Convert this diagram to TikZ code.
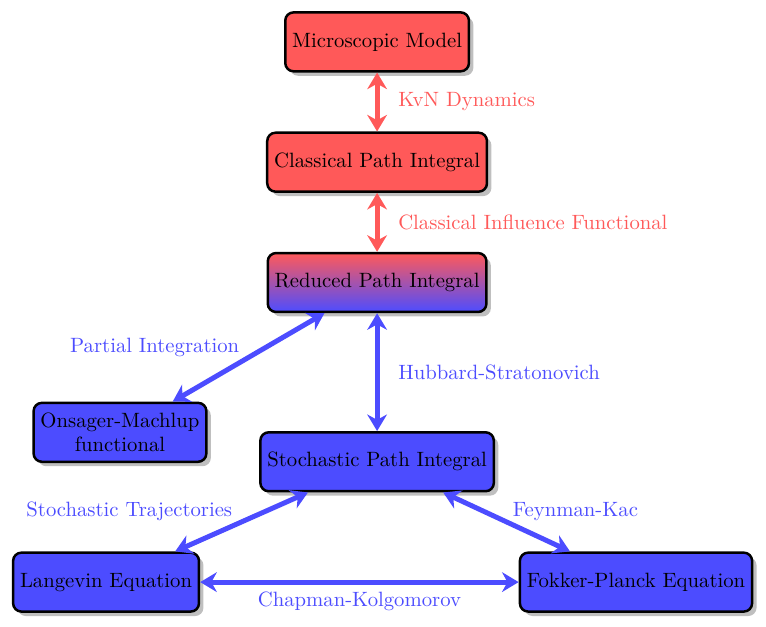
\documentclass[tikz,border=0pt]{standalone}
\usepackage{tikz}
\usetikzlibrary{arrows.meta,positioning,shadows}
\usepackage{xcolor}

\begin{document}
\begin{tikzpicture}[
    >={Stealth[length=8pt,width=9.5pt]},
    % Define styles for the boxes
    redbox/.style={rectangle, draw=black, very thick, rounded corners, fill=red!65, minimum height=1cm, align=center, drop shadow},
    bluebox/.style={redbox, fill=blue!70},
    mixbox/.style={redbox, top color=red!65, bottom color=blue!70},
    % Define styles for the links
    redlink/.style={<->, line width=2.4pt, draw=red!65},
    bluelink/.style={<->, line width=2.4pt, draw=blue!70},
    redlabel/.style={text=red!65},
    bluelabel/.style={text=blue!70}
]
\useasboundingbox (-6.40,0.71) rectangle (6.60,-9.93);

% ==========================================
% Classical part (top)
% ==========================================
\node[redbox] (micro) at (0,0) {Microscopic Model};
\node[redbox, below=1cm of micro] (classical) {Classical Path Integral};
\node[mixbox, below=1cm of classical] (reduced) {Reduced Path Integral};

\draw[redlink] (micro) -- node[redlabel, right=2mm] {KvN Dynamics} (classical);
\draw[redlink] (classical) -- node[redlabel, right=2mm] {Classical Influence Functional} (reduced);

% ==========================================
% Stochastic part (bottom)
% ==========================================
\node[bluebox, below left=1.5cm and 1cm of reduced] (onsager) {Onsager-Machlup\\functional};
\node[bluebox, below=2cm of reduced] (stoch) {Stochastic Path Integral};
\node[bluebox, below left=1cm and 1cm of stoch] (langevin) {Langevin Equation};
\node[bluebox, below right=1cm and 0.4cm of stoch] (fokker) {Fokker-Planck Equation};

\draw[bluelink] (reduced) -- node[bluelabel, above left, yshift=-4pt] {Partial Integration} (onsager);
\draw[bluelink] (reduced) -- node[bluelabel, right=2mm] {Hubbard-Stratonovich} (stoch);
\draw[bluelink] (stoch) -- node[bluelabel, above left, yshift=-4pt] {Stochastic Trajectories} (langevin);
\draw[bluelink] (stoch) -- node[bluelabel, above right, yshift=-4pt, xshift=-1.5pt] {Feynman-Kac} (fokker);
\draw[bluelink] (langevin) -- node[bluelabel, below] {Chapman-Kolgomorov} (fokker);

\end{tikzpicture}
\end{document}
